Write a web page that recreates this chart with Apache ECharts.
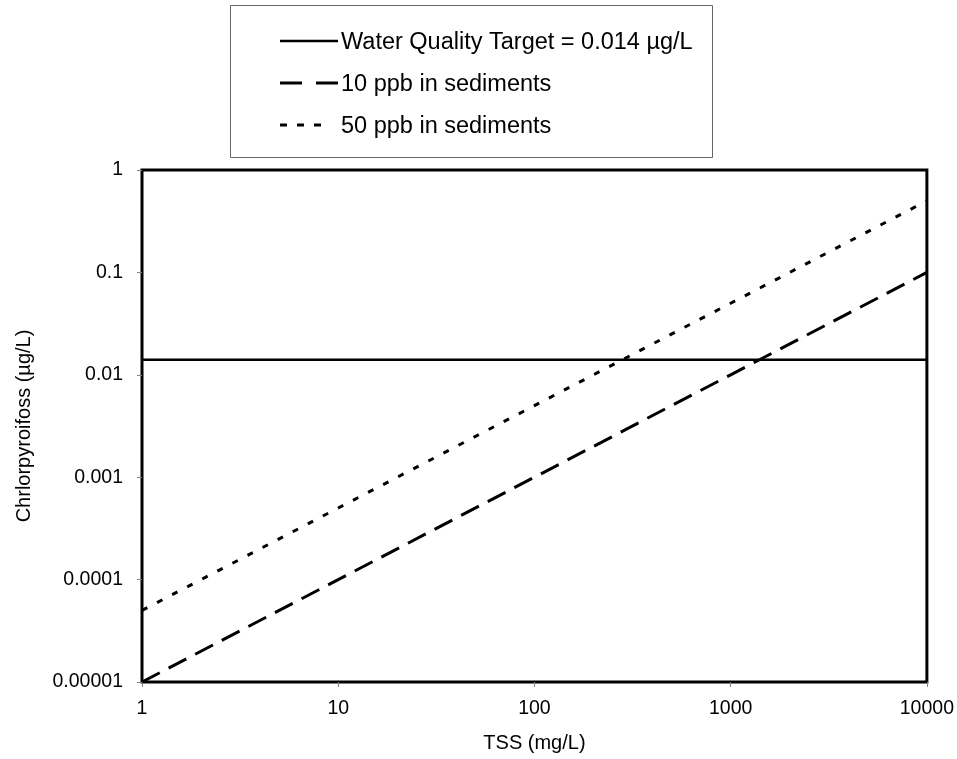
<!DOCTYPE html>
<html><head><meta charset="utf-8">
<script src="https://cdn.jsdelivr.net/npm/echarts@6/dist/echarts.min.js"></script>
<style>html,body{margin:0;padding:0;background:#fff}#c{width:957px;height:759px}</style>
</head><body><div id="c"></div>
<script>
const tss = [1, 10, 100, 1000, 10000];
const target = [0.014, 0.014, 0.014, 0.014, 0.014];
const sed10 = [0.00001, 0.0001, 0.001, 0.01, 0.1];
const sed50 = [0.00005, 0.0005, 0.005, 0.05, 0.5];
const xTickLabels = ['1', '10', '100', '1000', '10000'];
const yTickLabels = ['0.00001', '0.0001', '0.001', '0.01', '0.1', '1'];
const seriesNames = ['Water Quality Target = 0.014 µg/L', '10 ppb in sediments', '50 ppb in sediments'];

function pairs(ys){ return tss.map((x,i)=>[x, ys[i]]); }
function lbl(arr, v){ const e = Math.round(Math.log10(v)); const s = arr.find(t => Math.abs(Math.log10(parseFloat(t)) - e) < 1e-6); return s || ''; }

const font = 'Arial, "Liberation Sans", sans-serif';
const styles = [
  {width:2.5, dash:null, legendDash:null, legendEnd:338},
  {width:3, dash:[20,10], legendDash:[22,14], legendEnd:338},
  {width:3, dash:[6,11], legendDash:[7,10], legendEnd:322}
];
const legendGraphics = [{type:'rect', shape:{x:230.5, y:5.5, width:482, height:152}, style:{fill:'#fff', stroke:'#666', lineWidth:1}, z:1}];
seriesNames.forEach((n,i)=>{
  const y = 41 + i*42;
  legendGraphics.push({type:'line', shape:{x1:280, y1:y, x2:styles[i].legendEnd, y2:y}, style:{stroke:'#000', lineWidth:styles[i].width, lineDash:styles[i].legendDash}, z:2});
  legendGraphics.push({type:'text', x:341, y:y + 2, style:{text:n, fill:'#000', font:'23.5px ' + font, textVerticalAlign:'middle', textAlign:'left'}, z:2});
});

const chart = echarts.init(document.getElementById('c'), null, {renderer:'canvas'});
chart.setOption({
  animation:false,
  backgroundColor:'#fff',
  grid:{left:142, right:29, top:170, bottom:77, show:true, borderColor:'#000', borderWidth:3, backgroundColor:'transparent'},
  graphic: legendGraphics,
  legend:{show:false, data:seriesNames},
  xAxis:{
    type:'log', logBase:10, min:1, max:10000,
    name:'TSS (mg/L)', nameLocation:'middle', nameGap:51,
    nameTextStyle:{fontSize:20, fontFamily:font, color:'#000'},
    axisLine:{show:false},
    axisTick:{show:true, length:5, lineStyle:{color:'#808080', width:1}},
    axisLabel:{fontSize:19.5, fontFamily:font, color:'#000', margin:17, formatter:v=>lbl(xTickLabels, v)},
    splitLine:{show:false}, minorTick:{show:false}
  },
  yAxis:{
    type:'log', logBase:10, min:0.00001, max:1,
    name:'Chrlorpyroifoss (µg/L)', nameLocation:'middle', nameGap:108, nameRotate:90,
    nameTextStyle:{fontSize:20, fontFamily:font, color:'#000'},
    axisLine:{show:false},
    axisTick:{show:true, length:5, lineStyle:{color:'#808080', width:1}},
    axisLabel:{fontSize:19.5, fontFamily:font, color:'#000', margin:19, formatter:v=>lbl(yTickLabels, v)},
    splitLine:{show:false}, minorTick:{show:false}
  },
  series:[
    {name:seriesNames[0], type:'line', data:pairs(target), showSymbol:false, symbol:'none', lineStyle:{color:'#000', width:styles[0].width, type:'solid'}, itemStyle:{color:'#000'}},
    {name:seriesNames[1], type:'line', data:pairs(sed10), showSymbol:false, symbol:'none', lineStyle:{color:'#000', width:styles[1].width, type:styles[1].dash}, itemStyle:{color:'#000'}},
    {name:seriesNames[2], type:'line', data:pairs(sed50), showSymbol:false, symbol:'none', lineStyle:{color:'#000', width:styles[2].width, type:styles[2].dash}, itemStyle:{color:'#000'}}
  ]
});
</script></body></html>
